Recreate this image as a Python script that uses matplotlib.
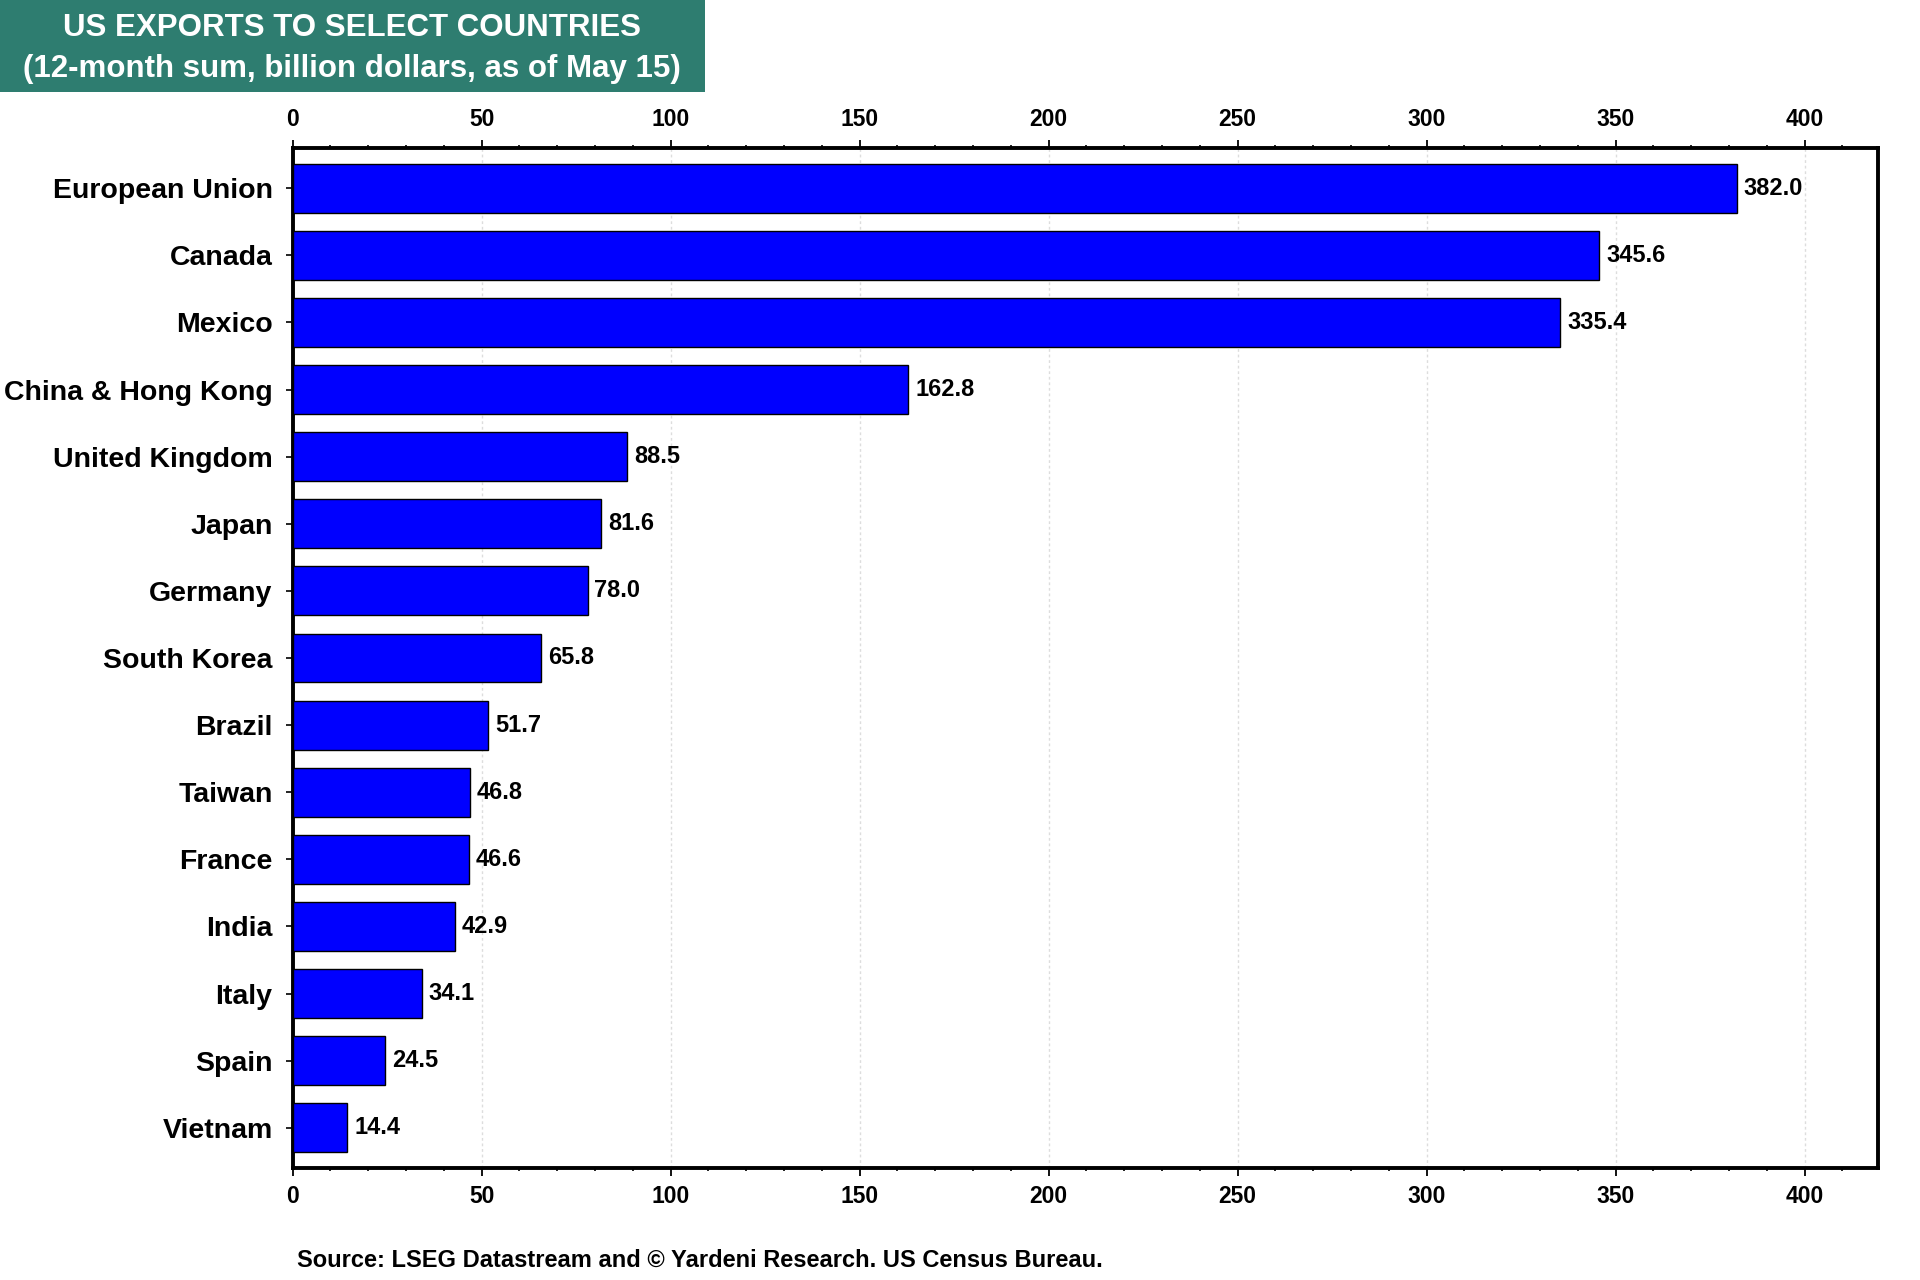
import matplotlib
matplotlib.use('Agg')
import matplotlib.pyplot as plt
import matplotlib.ticker as ticker
import matplotlib.transforms as mtransforms
from matplotlib.patches import Rectangle

# -----------------------------------------------------------------------
# data
# -----------------------------------------------------------------------
countries = [
    "European Union", "Canada", "Mexico", "China & Hong Kong",
    "United Kingdom", "Japan", "Germany", "South Korea", "Brazil",
    "Taiwan", "France", "India", "Italy", "Spain", "Vietnam",
]
exports = [382.0, 345.6, 335.4, 162.8, 88.5, 81.6, 78.0, 65.8, 51.7,
           46.8, 46.6, 42.9, 34.1, 24.5, 14.4]
x_ticks = [0, 50, 100, 150, 200, 250, 300, 350, 400]

TITLE_LINES = ["US EXPORTS TO SELECT COUNTRIES",
               "(12-month sum, billion dollars, as of May 15)"]
SOURCE = "Source: LSEG Datastream and \u00a9 Yardeni Research. US Census Bureau."

BAR_COLOR   = '#0000FF'
TITLE_BG    = '#2E7D70'
GRID_COLOR  = '#DDDDDD'

plt.rcParams['font.family'] = ['Liberation Sans', 'DejaVu Sans']
plt.rcParams['font.weight'] = 'bold'

W, H = 1920, 1280
fig = plt.figure(figsize=(19.2, 12.8), dpi=100)
fig.patch.set_facecolor('white')

ax = fig.add_axes([292.7 / W, 1 - 1168 / H, (1878 - 292.7) / W, (1168 - 148) / H])

ypos = list(range(len(countries)))
bars = ax.barh(ypos, exports, height=0.73, color=BAR_COLOR,
               edgecolor='black', linewidth=1.0, zorder=3)

for b, v in zip(bars, exports):
    ax.annotate(f"{v:.1f}", xy=(b.get_width(), b.get_y() + b.get_height() / 2),
                xytext=(5, 0), textcoords='offset points',
                ha='left', va='center', fontsize=17, fontweight='bold', zorder=4)

ax.set_xlim(0, 419.4)
ax.set_ylim(14.6, -0.6)
ax.set_yticks(ypos)
ax.set_yticklabels(countries, fontsize=20.5, fontweight='bold')
# nudge country names up a little, like the original
shift = mtransforms.ScaledTranslation(0, 0.025, fig.dpi_scale_trans)
for lbl in ax.get_yticklabels():
    lbl.set_transform(lbl.get_transform() + shift)

ax.set_xticks(x_ticks)
ax.xaxis.set_minor_locator(ticker.MultipleLocator(10))
ax.tick_params(axis='x', which='major', top=True, labeltop=True, bottom=True,
               labelbottom=True, direction='out', length=6, width=1.3,
               labelsize=16.5, pad=6.5)
ax.tick_params(axis='x', which='minor', top=True, bottom=True,
               direction='out', length=2.5, width=1.2)
ax.tick_params(axis='y', which='major', direction='out', length=5, width=1.2,
               pad=9.5)
for lbl in ax.get_xticklabels():
    lbl.set_fontweight('bold')

ax.grid(axis='x', which='major', color=GRID_COLOR, linestyle=(0, (2, 2)),
        linewidth=1.0, zorder=0)
ax.grid(axis='y', visible=False)

for spine in ax.spines.values():
    spine.set_linewidth(2.8)
    spine.set_color('black')

# title box top-left
fig.patches.append(Rectangle((0, 1 - 92 / H), 705 / W, 92 / H,
                             transform=fig.transFigure, facecolor=TITLE_BG,
                             edgecolor='none', zorder=0))
fig.text(352 / W, 1 - 28 / H, TITLE_LINES[0], color='white', fontsize=22.5,
         fontweight='bold', ha='center', va='center')
fig.text(352 / W, 1 - 69 / H, TITLE_LINES[1], color='white', fontsize=22.5,
         fontweight='bold', ha='center', va='center')

fig.text(297 / W, 1 - 1260 / H, SOURCE, fontsize=17, fontweight='bold',
         ha='left', va='center')

fig.savefig('out.png', dpi=100, facecolor='white')
